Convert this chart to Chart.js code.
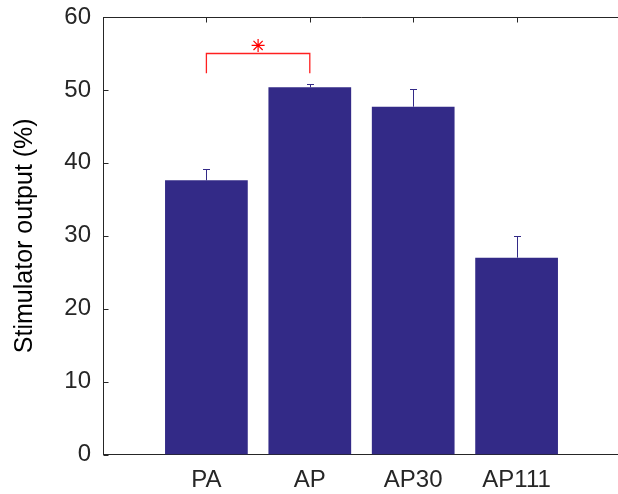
<!DOCTYPE html>
<html>
<head>
<meta charset="utf-8">
<script src="https://cdn.jsdelivr.net/npm/chart.js@4.4.1/dist/chart.umd.min.js"></script>
<style>
html,body{margin:0;padding:0;background:#fff;overflow:hidden;width:618px;height:494px;}
#c{position:absolute;left:0;top:0;}
</style>
</head>
<body>
<canvas id="c" width="640" height="494"></canvas>
<script>
// ---- data ----
const categories = ['PA', 'AP', 'AP30', 'AP111'];
const positions = [2, 3, 4, 5];
const means = [37.6, 50.35, 47.7, 27.0];
const errors = [1.6, 0.45, 2.4, 3.0];
const yTicks = [0, 10, 20, 30, 40, 50, 60];
const sigPair = [2, 3];
const sigLevels = [55.1, 52.3];   // bracket top, bracket ends
const sigStarY = [56.1];

const AXIS = '#262626';
const BAR = '#332A87';
const FONT = "'Liberation Sans', Arial, sans-serif";

const overlay = {
  id: 'overlay',
  afterDatasetsDraw(chart) {
    const ctx = chart.ctx, xs = chart.scales.x, ys = chart.scales.y, a = chart.chartArea;
    ctx.save();
    // error bars
    ctx.strokeStyle = BAR; ctx.lineWidth = 1;
    positions.forEach((p, i) => {
      const x = Math.round(xs.getPixelForValue(p)) + 0.5;
      const y0 = ys.getPixelForValue(means[i]);
      const y1 = Math.round(ys.getPixelForValue(means[i] + errors[i])) + 0.5;
      ctx.beginPath();
      ctx.moveTo(x, y0); ctx.lineTo(x, y1);
      ctx.moveTo(x - 3.5, y1); ctx.lineTo(x + 3.5, y1);
      ctx.stroke();
    });
    // axes box: top line + ticks
    ctx.strokeStyle = AXIS; ctx.lineWidth = 1;
    const top = Math.round(a.top) + 0.5, left = Math.round(a.left) + 0.5;
    ctx.beginPath();
    ctx.moveTo(left, top); ctx.lineTo(a.right, top);
    positions.forEach(p => {
      const x = Math.round(xs.getPixelForValue(p)) + 0.5;
      ctx.moveTo(x, top); ctx.lineTo(x, top + 5);
    });
    yTicks.forEach(v => {
      const y = Math.round(ys.getPixelForValue(v)) + 0.5;
      ctx.moveTo(left, y); ctx.lineTo(left + 5, y);
    });
    ctx.stroke();
    // significance bracket
    ctx.strokeStyle = '#FF2020'; ctx.lineWidth = 1.3;
    const bx1 = xs.getPixelForValue(sigPair[0]), bx2 = xs.getPixelForValue(sigPair[1]);
    const byTop = Math.round(ys.getPixelForValue(sigLevels[0])) + 0.5;
    const byEnd = ys.getPixelForValue(sigLevels[1]);
    ctx.beginPath();
    ctx.moveTo(bx1, byEnd); ctx.lineTo(bx1, byTop); ctx.lineTo(bx2, byTop); ctx.lineTo(bx2, byEnd);
    ctx.stroke();
    // asterisk marker
    const sx = (bx1 + bx2) / 2, sy = ys.getPixelForValue(sigStarY[0]), r = 6.5;
    ctx.strokeStyle = '#FF0000'; ctx.lineWidth = 1.2;
    ctx.beginPath();
    for (let k = 0; k < 4; k++) {
      const ang = k * Math.PI / 4;
      ctx.moveTo(sx - r * Math.cos(ang), sy - r * Math.sin(ang));
      ctx.lineTo(sx + r * Math.cos(ang), sy + r * Math.sin(ang));
    }
    ctx.stroke();
    ctx.restore();
  }
};

new Chart(document.getElementById('c'), {
  type: 'bar',
  data: {
    datasets: [{
      data: positions.map((p, i) => ({ x: p, y: means[i] })),
      backgroundColor: BAR,
      borderWidth: 0,
      barPercentage: 0.8,
      categoryPercentage: 1.0
    }]
  },
  options: {
    responsive: false,
    animation: false,
    events: [],
    layout: { padding: { left: 0, right: 20, top: 17, bottom: 0 } },
    plugins: { legend: { display: false }, tooltip: { enabled: false } },
    scales: {
      x: {
        type: 'linear', min: 1, max: 6, offset: false,
        afterFit(s) { s.height = 39.5; s.paddingLeft = 0; s.paddingRight = 0; },
        afterBuildTicks(s) { s.ticks = positions.map(v => ({ value: v })); },
        ticks: {
          autoSkip: false, maxRotation: 0, padding: 11,
          color: AXIS, font: { family: FONT, size: 24 },
          callback: (v) => { const i = positions.indexOf(v); return i >= 0 ? categories[i] : ''; }
        },
        grid: { display: false, drawTicks: false },
        border: { display: true, color: AXIS, width: 1 }
      },
      y: {
        min: 0, max: 60,
        afterFit(s) { s.width = 103; s.paddingTop = 0; s.paddingBottom = 0; },
        afterBuildTicks(s) { s.ticks = yTicks.map(v => ({ value: v })); },
        ticks: { padding: 12, color: AXIS, font: { family: FONT, size: 24 } },
        grid: { display: false, drawTicks: false },
        border: { display: true, color: AXIS, width: 1 },
        title: {
          display: true, text: 'Stimulator output (%)',
          color: '#000', font: { family: FONT, size: 25 }, padding: { top: 10, bottom: 0 }
        }
      }
    }
  },
  plugins: [overlay]
});
</script>
</body>
</html>
